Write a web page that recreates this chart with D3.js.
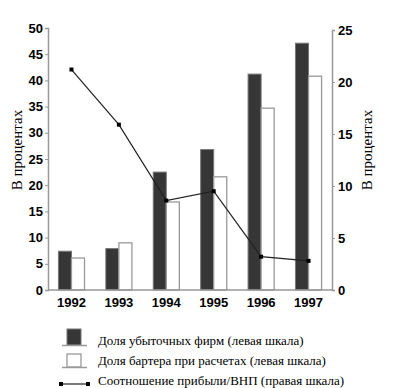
<!DOCTYPE html>
<html>
<head>
<meta charset="utf-8">
<script src="https://cdn.jsdelivr.net/npm/d3@7"></script>
<style>
  body { margin: 0; background: #fff; }
  .tick text { font-family: Arial, "Liberation Sans", sans-serif; font-weight: bold; font-size: 13px; fill: #000; }
  .serif { font-family: "Liberation Serif", "DejaVu Serif", serif; }
</style>
</head>
<body>
<script>
"use strict";

let width = 415;
let height = 388;

// data
let years = ["1992", "1993", "1994", "1995", "1996", "1997"];
let lossFirms = [7.4, 7.9, 22.5, 26.8, 41.2, 47.1];   // left scale
let barter = [6.1, 9.0, 16.8, 21.6, 34.7, 40.8];      // left scale
let profitGdp = [21.2, 15.9, 8.6, 9.5, 3.2, 2.8];     // right scale
let leftTicks = [0, 5, 10, 15, 20, 25, 30, 35, 40, 45, 50];
let rightTicks = [0, 5, 10, 15, 20, 25];
let legendLabels = [
  "Доля убыточных фирм (левая шкала)",
  "Доля бартера при расчетах (левая шкала)",
  "Соотношение прибыли/ВНП (правая шкала)"
];

let svg = d3.select("body").append("svg").attr("width", width).attr("height", height);

let x = d3.scaleBand().domain(years).range([48, 332]).paddingInner(0.45).paddingOuter(0.22);
let yL = d3.scaleLinear().domain([0, 50]).range([290, 28]);
let yR = d3.scaleLinear().domain([0, 25]).range([290, 30]);

let bw = x.bandwidth() / 2;

// dark bars
svg.append("g").selectAll("rect")
  .data(years)
  .enter()
  .append("rect")
    .attr("x", d => x(d))
    .attr("y", (d, i) => yL(lossFirms[i]))
    .attr("width", bw)
    .attr("height", (d, i) => yL(0) - yL(lossFirms[i]))
    .attr("fill", "#363636")
    .attr("stroke", "#777")
    .attr("stroke-width", 1);

// white bars
svg.append("g").selectAll("rect")
  .data(years)
  .enter()
  .append("rect")
    .attr("x", d => x(d) + bw)
    .attr("y", (d, i) => yL(barter[i]))
    .attr("width", bw)
    .attr("height", (d, i) => yL(0) - yL(barter[i]))
    .attr("fill", "#fff")
    .attr("stroke", "#999")
    .attr("stroke-width", 1.3);

// axes
let axL = svg.append("g").attr("transform", "translate(48,0)")
  .call(d3.axisLeft(yL).tickValues(leftTicks).tickSize(3).tickPadding(2));
let axR = svg.append("g").attr("transform", "translate(332,0)")
  .call(d3.axisRight(yR).tickValues(rightTicks).tickSize(3).tickPadding(3));
let axB = svg.append("g").attr("transform", "translate(0,290)")
  .call(d3.axisBottom(x).tickSize(0).tickPadding(5));
axB.select(".domain").attr("d", "M48,0H332");

[axL, axR, axB].forEach(a => {
  a.select(".domain").attr("stroke", "#999").attr("stroke-width", 1.5);
  a.selectAll(".tick line").attr("stroke", "#999");
});
axB.selectAll(".tick text").attr("dy", "0.9em");

// axis titles
svg.append("text")
  .attr("class", "serif")
  .attr("transform", "translate(22,150) rotate(-90)")
  .attr("text-anchor", "middle")
  .style("font-size", "15px")
  .text("В процентах");
svg.append("text")
  .attr("class", "serif")
  .attr("transform", "translate(372,150) rotate(-90)")
  .attr("text-anchor", "middle")
  .style("font-size", "15px")
  .text("В процентах");

// line on right scale
let cx = d => x(d) + x.bandwidth() / 2;
let line = d3.line()
  .x((d, i) => cx(years[i]))
  .y(d => yR(d));
svg.append("path")
  .datum(profitGdp)
  .attr("d", line)
  .attr("fill", "none")
  .attr("stroke", "#222")
  .attr("stroke-width", 1.2);
svg.append("g").selectAll("rect")
  .data(profitGdp)
  .enter()
  .append("rect")
    .attr("x", (d, i) => cx(years[i]) - 2)
    .attr("y", d => yR(d) - 2)
    .attr("width", 4)
    .attr("height", 4)
    .attr("fill", "#000");

// legend
let lg = svg.append("g");
lg.append("rect").attr("x", 67).attr("y", 329).attr("width", 14).attr("height", 16)
  .attr("fill", "#363636").attr("stroke", "#777");
lg.append("line").attr("x1", 62).attr("x2", 87).attr("y1", 345.5).attr("y2", 345.5).attr("stroke", "#999").attr("stroke-width", 1.5);
lg.append("rect").attr("x", 67).attr("y", 354).attr("width", 14).attr("height", 13)
  .attr("fill", "#fff").attr("stroke", "#999").attr("stroke-width", 1.3);
lg.append("line").attr("x1", 62).attr("x2", 87).attr("y1", 367.5).attr("y2", 367.5).attr("stroke", "#999").attr("stroke-width", 1.5);
lg.append("line").attr("x1", 61).attr("x2", 88).attr("y1", 384).attr("y2", 384).attr("stroke", "#222").attr("stroke-width", 1.2);
[61, 88].forEach(px => {
  lg.append("rect").attr("x", px - 2).attr("y", 382).attr("width", 4).attr("height", 4).attr("fill", "#000");
});

lg.selectAll("text")
  .data(legendLabels)
  .enter()
  .append("text")
    .attr("class", "serif")
    .attr("x", 98)
    .attr("y", (d, i) => 345 + i * 20)
    .style("font-size", "13px")
    .text(d => d);
</script>
</body>
</html>
